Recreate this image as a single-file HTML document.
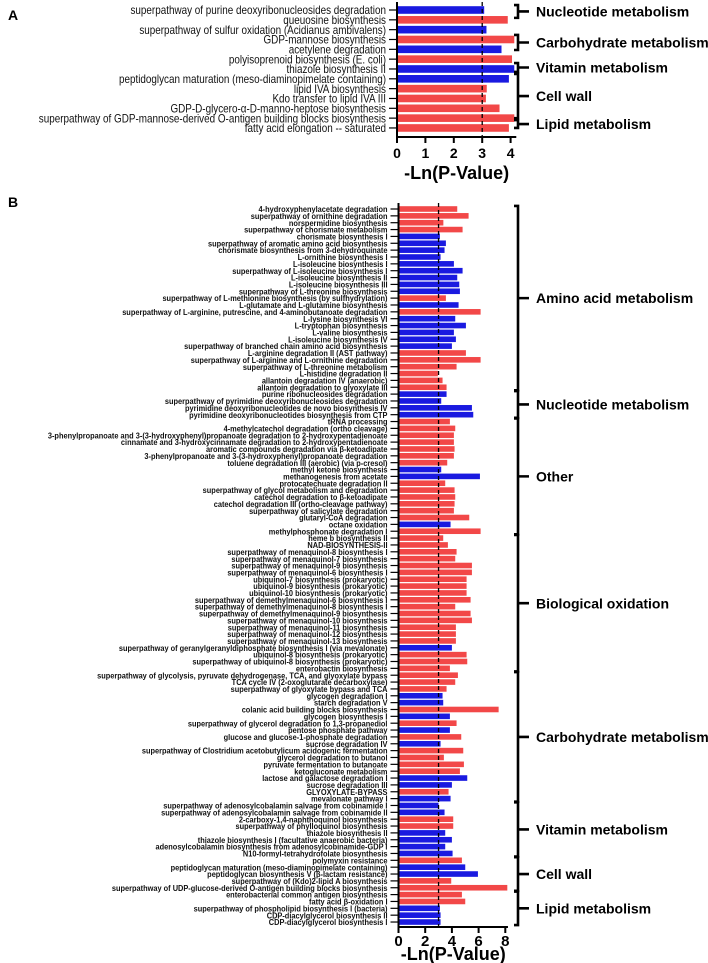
<!DOCTYPE html>
<html><head><meta charset="utf-8"><style>
html,body{margin:0;padding:0;background:#fff;}
svg{display:block;font-family:"Liberation Sans",Arial,sans-serif;}
</style></head><body>
<svg id="chart" width="708" height="963" viewBox="0 0 708 963">
<g id="gA"></g>
<g id="gB"></g>
</svg>
<script>
const NS="http://www.w3.org/2000/svg";
const RED="#f24848", BLUE="#1a1ae0";
// Panel A data
const aLabels=["superpathway of purine deoxyribonucleosides degradation","queuosine biosynthesis","superpathway of sulfur oxidation (Acidianus ambivalens)","GDP-mannose biosynthesis","acetylene degradation","polyisoprenoid biosynthesis (E. coli)","thiazole biosynthesis II","peptidoglycan maturation (meso-diaminopimelate containing)","lipid IVA biosynthesis","Kdo transfer to lipid IVA III","GDP-D-glycero-α-D-manno-heptose biosynthesis","superpathway of GDP-mannose-derived O-antigen building blocks biosynthesis","fatty acid elongation -- saturated"];
const aValues=[3.07,3.9,3.15,4.13,3.68,4.05,4.13,3.94,3.16,3.13,3.61,4.13,3.94];
const aColors=["b","r","b","r","b","r","b","b","r","r","r","r","r"];
const aTicks=[0,1,2,3,4];
const aGroups=[["Nucleotide metabolism",-0.5,0.8],["Carbohydrate metabolism",2.54,4.07],["Vitamin metabolism",5.4,6.3],["Cell wall",6.5,11],["Lipid metabolism",11.2,12]];
// Panel B data
const bLabels=["4-hydroxyphenylacetate degradation","superpathway of ornithine degradation","norspermidine biosynthesis","superpathway of chorismate metabolism","chorismate biosynthesis I","superpathway of aromatic amino acid biosynthesis","chorismate biosynthesis from 3-dehydroquinate","L-ornithine biosynthesis I","L-isoleucine biosynthesis I","superpathway of L-isoleucine biosynthesis I","L-isoleucine biosynthesis II","L-isoleucine biosynthesis III","superpathway of L-threonine biosynthesis","superpathway of L-methionine biosynthesis (by sulfhydrylation)","L-glutamate and L-glutamine biosynthesis","superpathway of L-arginine, putrescine, and 4-aminobutanoate degradation","L-lysine biosynthesis VI","L-tryptophan biosynthesis","L-valine biosynthesis","L-isoleucine biosynthesis IV","superpathway of branched chain amino acid biosynthesis","L-arginine degradation II (AST pathway)","superpathway of L-arginine and L-ornithine degradation","superpathway of L-threonine metabolism","L-histidine degradation II","allantoin degradation IV (anaerobic)","allantoin degradation to glyoxylate III","purine ribonucleosides degradation","superpathway of pyrimidine deoxyribonucleosides degradation","pyrimidine deoxyribonucleotides de novo biosynthesis IV","pyrimidine deoxyribonucleotides biosynthesis from CTP","tRNA processing","4-methylcatechol degradation (ortho cleavage)","3-phenylpropanoate and 3-(3-hydroxyphenyl)propanoate degradation to 2-hydroxypentadienoate","cinnamate and 3-hydroxycinnamate degradation to 2-hydroxypentadienoate","aromatic compounds degradation via β-ketoadipate","3-phenylpropanoate and 3-(3-hydroxyphenyl)propanoate degradation","toluene degradation III (aerobic) (via p-cresol)","methyl ketone biosynthesis","methanogenesis from acetate","protocatechuate degradation II","superpathway of glycol metabolism and degradation","catechol degradation to β-ketoadipate","catechol degradation III (ortho-cleavage pathway)","superpathway of salicylate degradation","glutaryl-CoA degradation","octane oxidation","methylphosphonate degradation I","heme b biosynthesis II","NAD-BIOSYNTHESIS-II","superpathway of menaquinol-8 biosynthesis I","superpathway of menaquinol-7 biosynthesis","superpathway of menaquinol-9 biosynthesis","superpathway of menaquinol-6 biosynthesis I","ubiquinol-7 biosynthesis (prokaryotic)","ubiquinol-9 biosynthesis (prokaryotic)","ubiquinol-10 biosynthesis (prokaryotic)","superpathway of demethylmenaquinol-6 biosynthesis I","superpathway of demethylmenaquinol-8 biosynthesis I","superpathway of demethylmenaquinol-9 biosynthesis","superpathway of menaquinol-10 biosynthesis","superpathway of menaquinol-11 biosynthesis","superpathway of menaquinol-12 biosynthesis","superpathway of menaquinol-13 biosynthesis","superpathway of geranylgeranyldiphosphate biosynthesis I (via mevalonate)","ubiquinol-8 biosynthesis (prokaryotic)","superpathway of ubiquinol-8 biosynthesis (prokaryotic)","enterobactin biosynthesis","superpathway of glycolysis, pyruvate dehydrogenase, TCA, and glyoxylate bypass","TCA cycle IV (2-oxoglutarate decarboxylase)","superpathway of glyoxylate bypass and TCA","glycogen degradation I","starch degradation V","colanic acid building blocks biosynthesis","glycogen biosynthesis I","superpathway of glycerol degradation to 1,3-propanediol","pentose phosphate pathway","glucose and glucose-1-phosphate degradation","sucrose degradation IV","superpathway of Clostridium acetobutylicum acidogenic fermentation","glycerol degradation to butanol","pyruvate fermentation to butanoate","ketogluconate metabolism","lactose and galactose degradation I","sucrose degradation III","GLYOXYLATE-BYPASS","mevalonate pathway I","superpathway of adenosylcobalamin salvage from cobinamide I","superpathway of adenosylcobalamin salvage from cobinamide II","2-carboxy-1,4-naphthoquinol biosynthesis","superpathway of phylloquinol biosynthesis","thiazole biosynthesis II","thiazole biosynthesis I (facultative anaerobic bacteria)","adenosylcobalamin biosynthesis from adenosylcobinamide-GDP I","N10-formyl-tetrahydrofolate biosynthesis","polymyxin resistance","peptidoglycan maturation (meso-diaminopimelate containing)","peptidoglycan biosynthesis V (β-lactam resistance)","superpathway of (Kdo)2-lipid A biosynthesis","superpathway of UDP-glucose-derived O-antigen building blocks biosynthesis","enterobacterial common antigen biosynthesis","fatty acid β-oxidation I","superpathway of phospholipid biosynthesis I (bacteria)","CDP-diacylglycerol biosynthesis II","CDP-diacylglycerol biosynthesis I"];
const bValues=[4.4,5.25,3.36,4.8,3.1,3.55,3.45,3.15,4.15,4.8,4.4,4.55,4.6,3.55,4.5,6.15,4.25,5.05,4.15,4.3,4.0,5.05,6.15,4.35,2.95,3.3,3.6,3.6,3.2,5.5,5.6,3.85,4.25,4.15,4.15,4.2,4.15,3.65,3.2,6.1,3.5,4.2,4.25,4.2,4.15,5.3,3.9,6.15,3.35,3.7,4.35,4.25,5.5,5.5,5.1,5.1,5.1,5.4,4.25,5.4,5.5,4.3,4.3,4.3,4.0,5.1,5.15,3.85,4.45,4.25,3.6,3.3,3.35,7.5,3.85,4.35,3.85,4.7,3.15,4.85,3.4,4.9,4.6,5.15,4.0,3.75,3.9,3.0,3.45,4.1,4.1,3.5,4.0,3.5,4.05,4.75,5.0,5.95,3.95,8.15,4.75,5.0,3.1,3.15,3.15];
const bColors=("rrrr"+"bbbbbbbbb"+"r"+"b"+"r"+"bbbbb"+"rrrrrr"+"bbbb"+"rrrrrrr"+"bb"+"rrrrrr"+"b"+"rrrrrrrrrrrrrrrrr"+"b"+"rrrrrr"+"bb"+"r"+"b"+"r"+"b"+"r"+"b"+"rrrr"+"bb"+"r"+"bbb"+"rr"+"bbbb"+"r"+"bb"+"rrrr"+"bbb").split("");
const bTicks=[0,2,4,6,8];
const bGroups=[["Amino acid metabolism",-0.45,26.45],["Nucleotide metabolism",26.55,30.45],["Other",30.55,47.45],["Biological oxidation",47.55,67.45],["Carbohydrate metabolism",67.55,86.45],["Vitamin metabolism",86.55,94.45],["Cell wall",94.55,99.45],["Lipid metabolism",99.55,104.45]];

function el(tag,attrs,parent,text){const e=document.createElementNS(NS,tag);for(const k in attrs)e.setAttribute(k,attrs[k]);if(text!==undefined)e.textContent=text;parent.appendChild(e);return e;}

function panel(g,cfg){
  const {labels,values,colors,ticks,groups,x0,unit,y0,step,barH,axisY,axisTop,lblSize,lblWeight,lblScale,tickFont,tickY,titleY,xmax,letter,letterY,grpFont}=cfg;
  const xs=v=>x0+v*unit, ys=i=>y0+i*step;
  const L=el("text",{x:8,y:letterY,"font-size":14,"font-weight":"bold"},g,letter);
  
  
  values.forEach((v,i)=>{
    const r=el("rect",{x:xs(0),y:ys(i)-barH/2,width:xs(v)-xs(0),height:barH,fill:colors[i]==="r"?RED:BLUE},g);
    
    
  });
  const d=el("line",{x1:xs(3),x2:xs(3),y1:axisTop,y2:axisY,stroke:"#000","stroke-width":1.3,"stroke-dasharray":"4,3"},g);
  
  
  const ya=el("line",{x1:x0,x2:x0,y1:axisTop,y2:axisY,stroke:"#000","stroke-width":2},g);
  
  
  const lg=el("g",{transform:`translate(${x0-11},0) scale(${lblScale},1)`},g);
  
  
  labels.forEach((t,i)=>{
    el("line",{x1:x0-8,x2:x0,y1:ys(i),y2:ys(i),stroke:"#000","stroke-width":1.2},g);
    const tx=el("text",{x:0,y:ys(i)+lblSize*0.36,"text-anchor":"end","font-size":lblSize,"font-weight":lblWeight,fill:"#111"},lg,t);
    
    
  });
  const xa=el("line",{x1:x0-1,x2:xs(xmax),y1:axisY,y2:axisY,stroke:"#000","stroke-width":2},g);
  
  
  ticks.forEach(t=>{
    el("line",{x1:xs(t),x2:xs(t),y1:axisY,y2:axisY+6,stroke:"#000","stroke-width":2},g);
    const tl=el("text",{x:xs(t),y:tickY,"text-anchor":"middle","font-size":tickFont,"font-weight":"bold"},g,String(t));
    
    
  });
  const tt=el("text",{x:(xs(0)+xs(xmax))/2,y:titleY,"text-anchor":"middle","font-size":18,"font-weight":"bold"},g,"-Ln(P-Value)");
  
  
  const bx=518;
  groups.forEach(([name,s,e])=>{
    const yt=ys(s), yb=ys(e), ym=(yt+yb)/2;
    const bg=el("g",{},g);
    
    
    el("path",{d:`M${bx-4},${yt} H${bx} V${yb} H${bx-4} M${bx},${ym} H${bx+11}`,fill:"none",stroke:"#000","stroke-width":2.6},bg);
    const gt=el("text",{x:536,y:ym+grpFont*0.36,"font-size":grpFont,"font-weight":"bold"},bg,name);
    
    
  });
}
panel(document.getElementById("gA"),{labels:aLabels,values:aValues,colors:aColors,ticks:aTicks,groups:aGroups,
  x0:397,unit:28.4,y0:10,step:9.83,barH:7.6,axisY:137,axisTop:2,lblSize:11.5,lblWeight:"normal",lblScale:0.86,
  tickFont:14,tickY:158,titleY:179,xmax:4.2,letter:"A",letterY:20,grpFont:14});
panel(document.getElementById("gB"),{labels:bLabels,values:bValues,colors:bColors,ticks:bTicks,groups:bGroups,
  x0:398.5,unit:13.35,y0:209,step:6.856,barH:5.6,axisY:927,axisTop:203,lblSize:8.6,lblWeight:"bold",lblScale:0.86,
  tickFont:15,tickY:946,titleY:960,xmax:8.2,letter:"B",letterY:207,grpFont:14});
</script>
</body></html>
